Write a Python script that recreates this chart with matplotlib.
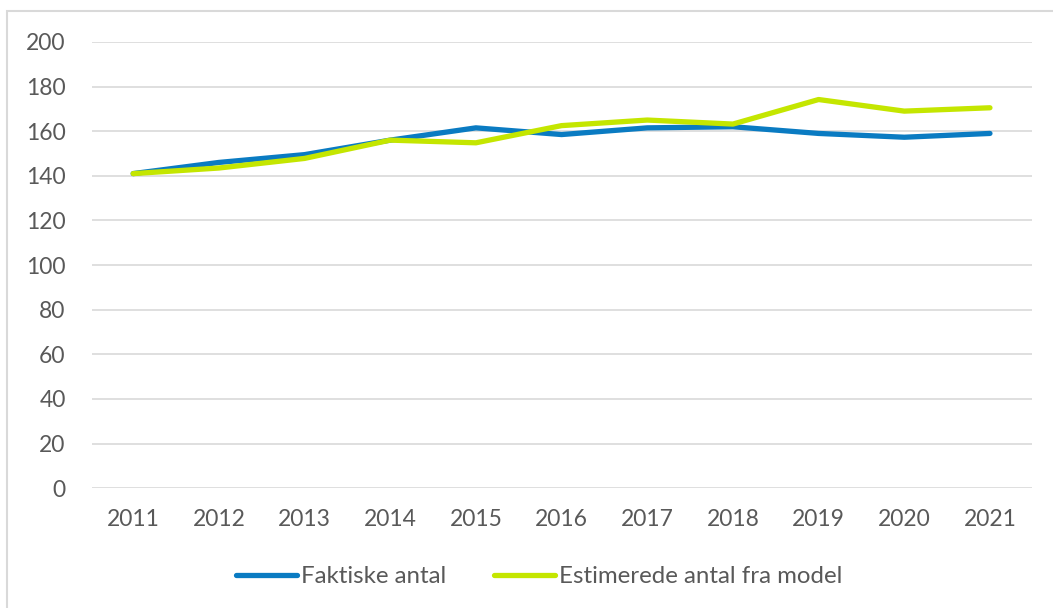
import matplotlib.pyplot as plt
from matplotlib.patches import Rectangle

# yearly counts: actual vs. model estimate
years = [2011, 2012, 2013, 2014, 2015, 2016, 2017, 2018, 2019, 2020, 2021]
faktiske = [141, 146, 149.5, 156, 161.5, 158.5, 161.5, 162, 159, 157.3, 159]
estimerede = [141, 143.5, 147.8, 156, 154.8, 162.5, 165, 163.2, 174.2, 169, 170.5]

blue = "#0A7BC2"
green = "#C4E600"
text_col = "#595959"
grid_col = "#D9D9D9"

plt.rcParams['font.family'] = ['Lato', 'DejaVu Sans']

fig = plt.figure(figsize=(10.53, 6.08), dpi=100)
ax = fig.add_axes([0.0874, 0.197, 0.8926, 0.734])

ax.plot(years, faktiske, color=blue, lw=3.8, solid_capstyle="round",
        label="Faktiske antal", zorder=3)
ax.plot(years, estimerede, color=green, lw=3.8, solid_capstyle="round",
        label="Estimerede antal fra model", zorder=4)

ax.set_ylim(0, 200)
ax.set_xlim(years[0] - 0.48, years[-1] + 0.49)
ax.set_yticks(range(0, 201, 20))
ax.set_xticks(years)
ax.grid(axis="y", color=grid_col, lw=1.2)
ax.set_axisbelow(True)
for s in ax.spines.values():
    s.set_visible(False)
ax.tick_params(length=0, colors=text_col, labelsize=16.5)
ax.tick_params(axis="y", pad=19)
ax.tick_params(axis="x", pad=15)

fig.legend(loc="center", bbox_to_anchor=(0.512, 0.051), ncol=2, frameon=False,
           fontsize=17.3, handlelength=2.55, handletextpad=0.17, columnspacing=1.95,
           labelcolor=text_col)

# light frame around the chart area
fig.patches.append(Rectangle((0.007, -0.01), 1.2, 0.992, transform=fig.transFigure,
                             fill=False, edgecolor=grid_col, lw=1.5))

fig.savefig("out.png", dpi=100, facecolor="white")
